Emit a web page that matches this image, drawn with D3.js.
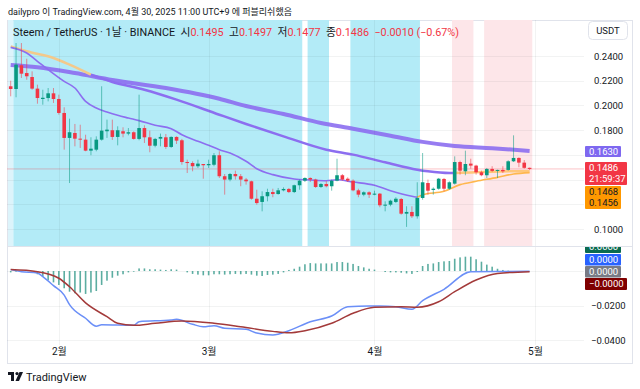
<!DOCTYPE html>
<html>
<head>
<meta charset="utf-8">
<script src="https://cdn.jsdelivr.net/npm/d3@7"></script>
<style>
body { margin: 0; background: #fff; }
svg { display: block; font-family: Roboto, "Noto Sans CJK KR", sans-serif; }
</style>
</head>
<body>
<div id="chart"></div>
<script>
// daily candles, Jan 23 .. Apr 30 2025
var opens  = [0.2155,0.2133,0.2325,0.2262,0.2230,0.2136,0.2052,0.2060,0.2098,0.2052,
              0.1939,0.1737,0.1777,0.1731,0.1723,0.1634,0.1642,0.1723,0.1791,0.1799,
              0.1745,0.1791,0.1772,0.1783,0.1729,0.1817,0.1742,0.1674,0.1731,0.1742,
              0.1664,0.1745,0.1718,0.1542,0.1534,0.1508,0.1526,0.1516,0.1520,0.1597,
              0.1427,0.1400,0.1445,0.1427,0.1400,0.1386,0.1245,0.1219,0.1265,0.1299,
              0.1283,0.1313,0.1324,0.1299,0.1354,0.1391,0.1413,0.1400,0.1340,0.1364,
              0.1346,0.1391,0.1435,0.1407,0.1391,0.1313,0.1278,0.1297,0.1278,0.1286,
              0.1192,0.1197,0.1219,0.1243,0.1124,0.1138,0.1103,0.1251,0.1372,0.1316,
              0.1326,0.1405,0.1326,0.1367,0.1542,0.1467,0.1529,0.1513,0.1459,0.1435,
              0.1486,0.1470,0.1478,0.1478,0.1548,0.1575,0.1537,0.1495];
var highs  = [0.2200,0.2505,0.2505,0.2378,0.2276,0.2168,0.2127,0.2141,0.2141,0.2087,
              0.1985,0.1893,0.1850,0.1844,0.1763,0.1742,0.1750,0.2155,0.1885,0.1885,
              0.1831,0.1823,0.1817,0.1791,0.2087,0.1839,0.1796,0.1737,0.1772,0.1769,
              0.1750,0.1750,0.1729,0.1561,0.1548,0.1561,0.1526,0.1561,0.1615,0.1629,
              0.1445,0.1453,0.1472,0.1445,0.1413,0.1391,0.1318,0.1305,0.1326,0.1326,
              0.1332,0.1337,0.1332,0.1359,0.1400,0.1418,0.1418,0.1407,0.1372,0.1386,
              0.1400,0.1569,0.1445,0.1418,0.1402,0.1326,0.1305,0.1305,0.1310,0.1291,
              0.1224,0.1237,0.1257,0.1251,0.1184,0.1184,0.1378,0.1615,0.1400,0.1337,
              0.1413,0.1413,0.1386,0.1588,0.1553,0.1634,0.1569,0.1520,0.1472,0.1494,
              0.1508,0.1480,0.1508,0.1556,0.1758,0.1580,0.1558,0.1497];
var lows   = [0.2074,0.2066,0.2222,0.2208,0.2127,0.2014,0.2006,0.2033,0.2020,0.1925,
              0.1642,0.1372,0.1669,0.1656,0.1629,0.1597,0.1629,0.1715,0.1737,0.1721,
              0.1677,0.1742,0.1758,0.1723,0.1718,0.1696,0.1621,0.1661,0.1669,0.1648,
              0.1656,0.1688,0.1520,0.1453,0.1467,0.1494,0.1407,0.1494,0.1508,0.1413,
              0.1278,0.1386,0.1400,0.1346,0.1359,0.1237,0.1197,0.1143,0.1224,0.1257,
              0.1278,0.1305,0.1291,0.1291,0.1318,0.1380,0.1380,0.1332,0.1332,0.1337,
              0.1310,0.1386,0.1391,0.1380,0.1305,0.1257,0.1265,0.1251,0.1273,0.1176,
              0.1143,0.1184,0.1210,0.1116,0.1017,0.1089,0.1084,0.1237,0.1278,0.1278,
              0.1318,0.1305,0.1318,0.1359,0.1440,0.1435,0.1488,0.1440,0.1427,0.1413,
              0.1462,0.1413,0.1453,0.1472,0.1542,0.1500,0.1488,0.1477];
var closes = [0.2133,0.2330,0.2257,0.2236,0.2136,0.2060,0.2062,0.2098,0.2052,0.1939,
              0.1737,0.1783,0.1731,0.1723,0.1634,0.1650,0.1723,0.1796,0.1804,0.1745,
              0.1799,0.1772,0.1783,0.1729,0.1817,0.1742,0.1674,0.1729,0.1745,0.1664,
              0.1745,0.1715,0.1542,0.1534,0.1508,0.1529,0.1516,0.1526,0.1597,0.1427,
              0.1400,0.1445,0.1427,0.1400,0.1386,0.1245,0.1210,0.1265,0.1299,0.1283,
              0.1313,0.1324,0.1299,0.1354,0.1391,0.1413,0.1400,0.1340,0.1364,0.1346,
              0.1391,0.1435,0.1400,0.1391,0.1313,0.1278,0.1297,0.1278,0.1286,0.1192,
              0.1197,0.1229,0.1245,0.1124,0.1138,0.1103,0.1251,0.1378,0.1310,0.1326,
              0.1407,0.1326,0.1378,0.1542,0.1472,0.1526,0.1513,0.1459,0.1435,0.1486,
              0.1470,0.1478,0.1467,0.1548,0.1575,0.1537,0.1495,0.1486];

// moving averages: [candle index, value]
var maLong  = [[0,0.2327],[5,0.2309],[12,0.2262],[19,0.2205],[29,0.2141],[39,0.2054],[44,0.1995],
               [51,0.1931],[58,0.1858],[64,0.1812],[71,0.1755],[77,0.1705],[83,0.1672],[90,0.1654],[97,0.1632]];
var maMid   = [[0,0.2478],[3,0.2438],[8,0.2384],[11,0.2330],[15,0.2249],[19,0.2190],[25,0.2127],
               [31,0.2047],[39,0.1925],[44,0.1850],[51,0.1750],[59,0.1642],[64,0.1602],[70,0.1540],
               [76,0.1480],[78,0.1467],[82,0.1453],[83,0.1454],[86,0.1458],[90,0.1464],[97,0.1468]];
var maShort = [[0,0.2470],[3,0.2424],[5,0.2357],[7,0.2290],[10,0.2195],[12,0.2141],[14,0.2033],
               [16,0.1979],[18,0.1947],[20,0.1920],[22,0.1898],[24,0.1877],[27,0.1839],[30,0.1812],
               [32,0.1763],[35,0.1710],[37,0.1677],[39,0.1642],[41,0.1615],[44,0.1548],[46,0.1488],
               [49,0.1440],[53,0.1405],[56,0.1397],[59,0.1391],[61,0.1398],[64,0.1380],[68,0.1354],
               [71,0.1310],[75,0.1265],[76,0.1257],[77,0.1278],[81,0.1305],[84,0.1359],[87,0.1386],
               [91,0.1418],[94,0.1445],[97,0.1456]];
// [from, to, colour] pieces of the two MAs that switch colour
var midPieces   = [[0, 15, "#f3c98b"], [15, 83, "#8c6ef0"], [83, 97, "#ffc77a"]];
var shortPieces = [[0, 76, "#8c6ef0"], [76, 97, "#ffb74d"]];

// background bands: [first candle, last candle, colour]
var bands = [[0,0,"#ddf4fb"],[1,54,"#b3ebf7"],[56,59,"#b3ebf7"],[64,76,"#b3ebf7"],
             [83,86,"#fde6e9"],[89,97,"#fde6e9"]];

// MACD
var macdHist = [-0.0008,-0.0004,0,0,-0.0002,-0.0019,-0.0033,-0.0052,-0.0066,-0.0081,
                -0.0100,-0.0120,-0.0129,-0.0125,-0.0133,-0.0125,-0.0116,-0.0081,-0.0056,-0.0039,
                -0.0027,-0.0019,-0.0008,-0.0004,0.0015,0.0015,0.0010,0.0010,0.0008,0.0006,
                0.0010,0.0008,0,-0.0008,-0.0017,-0.0021,-0.0025,-0.0025,-0.0019,-0.0019,
                -0.0021,-0.0019,-0.0017,-0.0019,-0.0017,-0.0021,-0.0027,-0.0029,-0.0023,-0.0021,
                -0.0017,-0.0008,0.0006,0.0013,0.0025,0.0039,0.0046,0.0044,0.0044,0.0044,
                0.0044,0.0052,0.0052,0.0048,0.0041,0.0029,0.0021,0.0013,0.0008,0,
                -0.0006,-0.0008,-0.0008,-0.0010,-0.0014,-0.0017,-0.0006,0.0029,0.0041,0.0044,
                0.0052,0.0056,0.0058,0.0071,0.0079,0.0083,0.0083,0.0068,0.0054,0.0037,
                0.0025,0.0013,0.0006,0.0002,0,0,0,0];
var macdLine = [[0,0.0008],[2,-0.0004],[5,-0.0012],[6,-0.0033],[8,-0.0085],[10,-0.0140],[11,-0.0195],
                [14,-0.0274],[16,-0.0320],[17,-0.0312],[23,-0.0315],[24,-0.0294],[30,-0.0284],[31,-0.0280],
                [34,-0.0309],[36,-0.0323],[38,-0.0317],[40,-0.0332],[44,-0.0338],[46,-0.0360],[49,-0.0371],
                [52,-0.0346],[56,-0.0294],[60,-0.0261],[63,-0.0207],[67,-0.0203],[69,-0.0203],[72,-0.0207],
                [75,-0.0222],[77,-0.0172],[81,-0.0106],[86,-0.0004],[97,-0.0002]];
var signalLine = [[0,0.0008],[5,-0.0004],[9,-0.0042],[11,-0.0091],[14,-0.0185],[18,-0.0265],[20,-0.0303],
                  [23,-0.0315],[27,-0.0303],[32,-0.0290],[38,-0.0303],[43,-0.0323],[49,-0.0350],[52,-0.0358],
                  [55,-0.0346],[60,-0.0303],[64,-0.0245],[68,-0.0210],[73,-0.0207],[76,-0.0210],[80,-0.0178],
                  [83,-0.0120],[87,-0.0052],[91,-0.0014],[97,-0.0004]];

var priceTicks = [0.10, 0.18, 0.20, 0.22, 0.24];
var gridTicks = [0.10, 0.12, 0.14, 0.16, 0.18, 0.20, 0.22, 0.24];
var macdTicks = [-0.02, -0.04];

var W = 640, H = 389;
var plotL = 7, plotR = 584, priceTop = 20, priceBot = 246, macdTop = 247, macdBot = 345;
var green = "#089981", red = "#f23645";
var axisFont = 9.5;

var firstDay = new Date(2025, 0, 23), lastDay = new Date(2025, 3, 30);
var days = d3.timeDay.range(firstDay, d3.timeDay.offset(lastDay, 1));
var months = d3.timeMonth.range(new Date(2025, 1, 1), new Date(2025, 4, 2));

var x = d3.scaleTime().domain([firstDay, lastDay]).range([10.7, 529.6]);
var step = x(days[1]) - x(days[0]);
var y = d3.scaleLinear().domain([0.10, 0.24]).range([229, 56]);
var ym = d3.scaleLinear().domain([-0.04, 0]).range([340, 271]);

var svg = d3.select("#chart").append("svg").attr("width", W).attr("height", H);
var defs = svg.append("defs");
defs.append("clipPath").attr("id", "cp").append("rect")
  .attr("x", plotL).attr("y", priceTop).attr("width", plotR - plotL).attr("height", priceBot - priceTop);
defs.append("clipPath").attr("id", "cm").append("rect")
  .attr("x", plotL).attr("y", macdTop).attr("width", plotR - plotL).attr("height", macdBot - macdTop);
defs.append("clipPath").attr("id", "cma").append("rect")
  .attr("x", 580).attr("y", macdTop).attr("width", 60).attr("height", 120);

// header
svg.append("text").attr("x", 8).attr("y", 15).attr("font-size", 9).attr("fill", "#131722")
  .text("dailypro 이 TradingView.com, 4월 30, 2025 11:00 UTC+9 에 퍼블리쉬했음");

// frame
svg.append("rect").attr("x", plotL + 0.5).attr("y", priceTop + 0.5).attr("width", 632 - plotL)
  .attr("height", 363 - priceTop).attr("fill", "none").attr("stroke", "#e0e3eb");

var price = svg.append("g").attr("clip-path", "url(#cp)");
price.selectAll("rect.band").data(bands).enter().append("rect")
  .attr("x", d => x(days[d[0]]) - step / 2)
  .attr("width", d => (d[1] - d[0] + 1) * step)
  .attr("y", priceTop).attr("height", priceBot - priceTop)
  .attr("fill", d => d[2]);

// grid
price.selectAll("line.hg").data(gridTicks).enter().append("line")
  .attr("x1", plotL).attr("x2", plotR).attr("y1", d => Math.round(y(d)) + 0.5).attr("y2", d => Math.round(y(d)) + 0.5)
  .attr("stroke", "rgba(42,46,57,0.06)");
svg.selectAll("line.vg").data(months).enter().append("line")
  .attr("x1", d => Math.round(x(d)) + 0.5).attr("x2", d => Math.round(x(d)) + 0.5)
  .attr("y1", priceTop).attr("y2", macdBot)
  .attr("stroke", "rgba(42,46,57,0.06)");
svg.selectAll("line.mg").data([0].concat(macdTicks)).enter().append("line")
  .attr("x1", plotL).attr("x2", plotR).attr("y1", d => Math.round(ym(d)) + 0.5).attr("y2", d => Math.round(ym(d)) + 0.5)
  .attr("stroke", "rgba(42,46,57,0.06)");

// last price line
price.append("line").attr("x1", plotL).attr("x2", plotR)
  .attr("y1", y(closes[97])).attr("y2", y(closes[97]))
  .attr("stroke", red).attr("stroke-opacity", 0.3);

// moving averages
var maLine = d3.line().x(d => x(days[d[0]])).y(d => y(d[1])).curve(d3.curveMonotoneX);
price.append("path").attr("d", maLine(maLong)).attr("fill", "none")
  .attr("stroke", "#8c6ef0").attr("stroke-width", 4).attr("stroke-opacity", 0.9);
midPieces.forEach(function(p) {
  price.append("path").attr("d", maLine(maMid.filter(d => d[0] >= p[0] && d[0] <= p[1])))
    .attr("fill", "none").attr("stroke", p[2]).attr("stroke-width", 2.5);
});
shortPieces.forEach(function(p) {
  price.append("path").attr("d", maLine(maShort.filter(d => d[0] >= p[0] && d[0] <= p[1])))
    .attr("fill", "none").attr("stroke", p[2]).attr("stroke-width", 1.6);
});

// candles
var candles = price.selectAll("g.c").data(days).enter().append("g");
candles.append("line")
  .attr("x1", (d, i) => x(d)).attr("x2", (d, i) => x(d))
  .attr("y1", (d, i) => y(highs[i])).attr("y2", (d, i) => y(lows[i]))
  .attr("stroke", (d, i) => closes[i] >= opens[i] ? green : red)
  .attr("stroke-opacity", 0.55).attr("stroke-width", 1);
candles.append("rect")
  .attr("x", d => x(d) - 1.8).attr("width", 3.6)
  .attr("y", (d, i) => y(Math.max(opens[i], closes[i])))
  .attr("height", (d, i) => Math.max(1, Math.abs(y(opens[i]) - y(closes[i]))))
  .attr("fill", (d, i) => closes[i] >= opens[i] ? green : red);

// legend
var leg = svg.append("text").attr("x", 13).attr("y", 36).attr("font-size", 10.8)
  .style("white-space", "pre");
[["Steem / TetherUS · 1날 · BINANCE  ", "#131722"], ["시", "#131722"], ["0.1495", red],
 ["  고", "#131722"], ["0.1497", red], ["  저", "#131722"], ["0.1477", red],
 ["  종", "#131722"], ["0.1486", red], ["  −0.0010 (−0.67%)", red]].forEach(function(t) {
  leg.append("tspan").attr("fill", t[1]).text(t[0]);
});

// pane separator
svg.append("line").attr("x1", plotL).attr("x2", 632).attr("y1", priceBot + 0.5).attr("y2", priceBot + 0.5)
  .attr("stroke", "#e0e3eb");

// MACD pane
var macd = svg.append("g").attr("clip-path", "url(#cm)");
macd.selectAll("rect.h").data(macdHist).enter().append("rect")
  .attr("x", (d, i) => x(days[i]) - 0.8).attr("width", 1.6)
  .attr("y", d => ym(Math.max(0, d))).attr("height", d => Math.abs(ym(d) - ym(0)))
  .attr("fill", "#3f9f90").attr("fill-opacity", 0.85);
var mLine = d3.line().x(d => x(days[d[0]])).y(d => ym(d[1])).curve(d3.curveMonotoneX);
macd.append("path").attr("d", mLine(macdLine)).attr("fill", "none").attr("stroke", "#6b8ff7").attr("stroke-width", 1.5);
macd.append("path").attr("d", mLine(signalLine)).attr("fill", "none").attr("stroke", "#a33a3a").attr("stroke-width", 1.5);

// axes
var ay = svg.append("g").attr("transform", "translate(591,0)")
  .call(d3.axisRight(y).tickValues(priceTicks).tickSize(0).tickFormat(d3.format(".4f")));
var am = svg.append("g").attr("transform", "translate(588,0)")
  .call(d3.axisRight(ym).tickValues(macdTicks).tickSize(0).tickFormat(d => "−" + d3.format(".4f")(-d)));
var ax = svg.append("g").attr("transform", "translate(0,346)")
  .call(d3.axisBottom(x).tickValues(months).tickSize(0).tickFormat(d => (d.getMonth() + 1) + "월"));
[ay, am, ax].forEach(function(a) {
  a.select(".domain").remove();
  a.selectAll("text").attr("font-size", axisFont).attr("fill", "#131722")
    .attr("font-family", 'Roboto, "Noto Sans CJK KR", sans-serif');
});
ax.selectAll("text").attr("font-size", 10).attr("dy", "0.6em");

// USDT box
svg.append("rect").attr("x", 588.5).attr("y", 21.5).attr("width", 39).attr("height", 18).attr("rx", 4)
  .attr("fill", "#fff").attr("stroke", "#e0e3eb");
svg.append("text").attr("x", 608).attr("y", 34).attr("text-anchor", "middle").attr("font-size", 9.5)
  .attr("fill", "#131722").text("USDT");

// value badges
function badge(g, y0, h, w, fill, color, lines) {
  g.append("rect").attr("x", 585).attr("y", y0).attr("width", w).attr("height", h).attr("rx", 1).attr("fill", fill);
  lines.forEach(function(t, i) {
    g.append("text").attr("x", 589).attr("y", y0 + 8.8 + i * 11.5).attr("font-size", axisFont)
      .attr("fill", color).text(t);
  });
}
badge(svg, 146, 11, 36, "#7e68f0", "#fff", [d3.format(".4f")(maLong[maLong.length - 1][1] - 0.0002)]);
badge(svg, 162, 23, 42, red, "#fff", [d3.format(".4f")(closes[97]), "21:59:37"]);
badge(svg, 186, 23, 36, "#ff9800", "#131722", [d3.format(".4f")(maMid[maMid.length - 1][1]),
                                                 d3.format(".4f")(maShort[maShort.length - 1][1])]);
var mb = svg.append("g").attr("clip-path", "url(#cma)");
badge(mb, 241.5, 11.5, 36, "#0b6b50", "#fff", ["0.0000"]);
badge(mb, 254, 11.5, 36, "#2962ff", "#fff", ["0.0000"]);
badge(mb, 266, 11.5, 36, "#787b86", "#fff", ["0.0000"]);
badge(mb, 278, 12, 42, "#7f0000", "#fff", ["−0.0000"]);

// TradingView mark
var logo = svg.append("g").attr("transform", "translate(8,372)").attr("fill", "#131722");
logo.append("rect").attr("x", 0).attr("y", 0).attr("width", 6).attr("height", 3);
logo.append("rect").attr("x", 3).attr("y", 0).attr("width", 3).attr("height", 9);
logo.append("circle").attr("cx", 9).attr("cy", 1.6).attr("r", 1.6);
logo.append("path").attr("d", "M11.5,0 L15,0 L11,9 L7.5,9 Z");
svg.append("text").attr("x", 26).attr("y", 381).attr("font-size", 11).attr("fill", "#131722").text("TradingView");
</script>
</body>
</html>
